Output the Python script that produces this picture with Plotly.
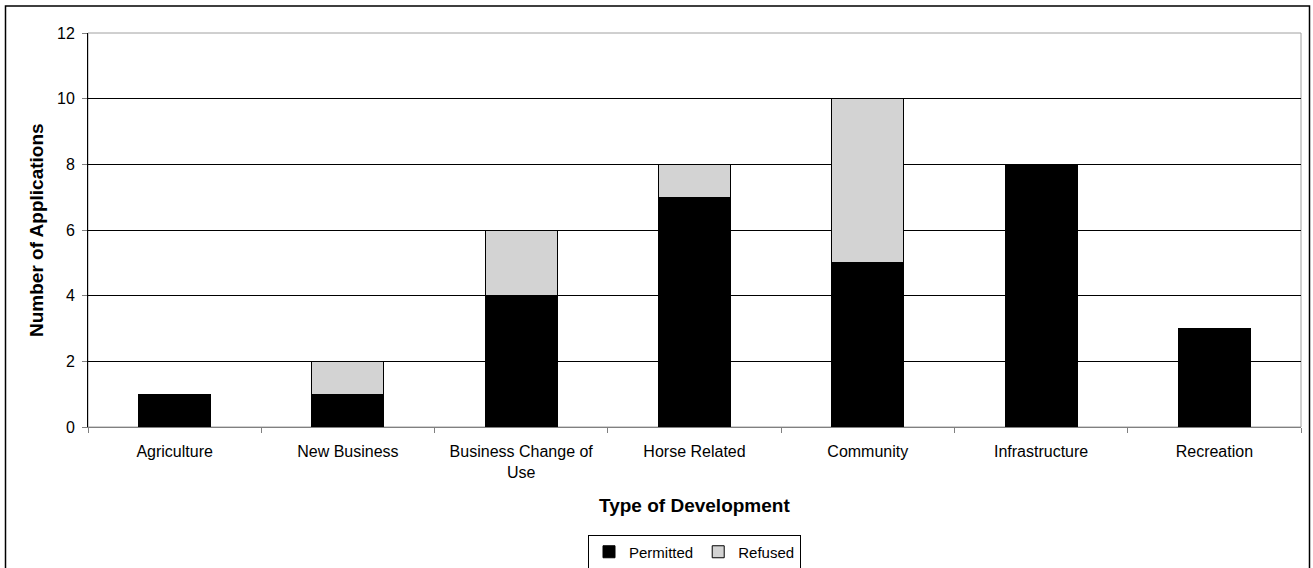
import plotly.graph_objects as go

categories = ["Agriculture", "New Business", "Business Change of<br>Use", "Horse Related",
              "Community", "Infrastructure", "Recreation"]
permitted = [1, 1, 4, 7, 5, 8, 3]
refused = [0, 1, 2, 1, 5, 0, 0]
y_ticks = [0, 2, 4, 6, 8, 10, 12]

W, H = 1313, 568
L, R, T, B = 88, 12, 33, 141
pw, ph = W - L - R, H - T - B

def px_x(x):
    return (x - L) / pw

def px_y(y):
    return (H - B - y) / ph

FAM = "Liberation Sans, Arial, sans-serif"
font = dict(family=FAM, size=16, color="black")

fig = go.Figure()
fig.add_bar(x=categories, y=permitted, name="Permitted",
            marker=dict(color="black", line=dict(color="black", width=1)))
fig.add_bar(x=categories, y=refused, name="Refused",
            marker=dict(color="#d3d3d3", line=dict(color="black", width=1)))

fig.update_layout(
    width=W, height=H, barmode="stack", bargap=0.585,
    margin=dict(l=L, r=R, t=T, b=B, autoexpand=False),
    paper_bgcolor="white", plot_bgcolor="white",
    font=font,
    showlegend=True,
    legend=dict(orientation="h", xref="container", yref="container",
                x=694.5 / W, xanchor="center",
                y=1 - 552 / H, yanchor="middle",
                bordercolor="black", borderwidth=1, bgcolor="white",
                font=dict(family=FAM, size=15, color="black"), traceorder="normal",
                itemwidth=30, tracegroupgap=0),
    xaxis=dict(showline=True, linecolor="#808080", linewidth=1,
               ticks="outside", tickson="boundaries", ticklen=5, tickcolor="#808080",
               ticklabelstandoff=10,
               showgrid=False, tickfont=font, fixedrange=True),
    yaxis=dict(range=[0, 12], tickvals=y_ticks, showline=True, linecolor="black",
               linewidth=1, ticks="outside", ticklen=5, tickcolor="#808080",
               ticklabelstandoff=4,
               showgrid=True, gridcolor="black", gridwidth=1, zeroline=False,
               tickfont=font, fixedrange=True),
    shapes=[
        dict(type="rect", xref="paper", yref="paper", x0=0, x1=1, y0=0, y1=1,
             line=dict(color="#a0a0a0", width=1), layer="below"),
        dict(type="rect", xref="paper", yref="paper",
             x0=px_x(5.5), x1=px_x(1309.5), y0=px_y(570), y1=px_y(6),
             line=dict(color="black", width=1.5), layer="below"),
    ],
    annotations=[
        dict(text="<b>Number of Applications</b>", xref="paper", yref="paper",
             x=px_x(36), y=0.5, textangle=-90, showarrow=False,
             font=dict(family=FAM, size=19, color="black"),
             xanchor="center", yanchor="middle"),
        dict(text="<b>Type of Development</b>", xref="paper", yref="paper",
             x=0.5, y=px_y(505), showarrow=False,
             font=dict(family=FAM, size=19, color="black"),
             xanchor="center", yanchor="middle"),
    ],
)

fig.write_html("out.html")
